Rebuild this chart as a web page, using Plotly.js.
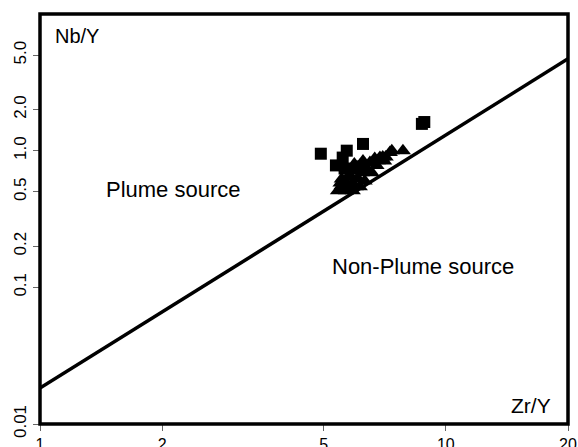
<!DOCTYPE html>
<html>
<head>
<meta charset="utf-8">
<script src="https://cdn.plot.ly/plotly-3.0.1.min.js"></script>
<style>html,body{margin:0;padding:0;background:#fff;}#chart{width:578px;height:447px;}</style>
</head>
<body>
<div id="chart"></div>
<script>
// Boundary line (Zr/Y vs Nb/Y)
var lineX = [1, 20];
var lineY = [0.0183, 4.70];

// Squares
var sqX = [4.92, 5.36, 5.57, 5.70, 6.25, 5.63, 8.73, 8.85];
var sqY = [0.95, 0.78, 0.89, 1.00, 1.12, 0.74, 1.57, 1.62];

// Triangles
var triX = [5.42, 5.54, 5.64, 5.67, 5.74, 5.80, 5.87, 5.90, 5.97, 6.00, 6.07, 6.14, 6.21, 6.31, 6.39, 6.50, 6.57, 6.68, 6.80, 6.88, 6.99, 7.11, 7.28, 7.36, 7.84, 6.14, 5.54, 5.74, 5.50, 5.95, 6.25, 6.45, 6.75, 7.05, 5.85, 6.05];
var triY = [0.51, 0.556, 0.60, 0.51, 0.53, 0.66, 0.57, 0.51, 0.71, 0.545, 0.625, 0.78, 0.69, 0.60, 0.74, 0.82, 0.69, 0.875, 0.845, 0.89, 0.90, 0.90, 0.97, 1.00, 1.00, 0.545, 0.62, 0.64, 0.58, 0.80, 0.84, 0.70, 0.78, 0.84, 0.72, 0.76];

var xTickVals = [1, 2, 5, 10, 20];
var xTickText = ['1', '2', '5', '10', '20'];
var yTickVals = [0.01, 0.1, 0.2, 0.5, 1, 2, 5];
var yTickText = ['0.01', '0.1', '0.2', '0.5', '1.0', '2.0', '5.0'];

var F = 'Liberation Sans, Arial, sans-serif';

var traces = [
  {x: lineX, y: lineY, mode: 'lines', line: {color: '#000', width: 3.5}, hoverinfo: 'skip'},
  {x: triX, y: triY, mode: 'markers', marker: {symbol: 'triangle-up', size: 14, color: '#000'}},
  {x: sqX, y: sqY, mode: 'markers', marker: {symbol: 'square', size: 12, color: '#000'}}
];

var layout = {
  width: 578, height: 447,
  margin: {l: 40, r: 10, t: 14, b: 23},
  paper_bgcolor: '#fff', plot_bgcolor: '#fff',
  showlegend: false,
  font: {family: F, color: '#000'},
  xaxis: {
    type: 'log', range: [0, Math.log10(20)],
    tickvals: xTickVals, ticktext: xTickText,
    ticks: 'outside', ticklen: 6, tickcolor: '#666', tickwidth: 1,
    showgrid: false, zeroline: false, showline: false,
    tickfont: {family: F, size: 16, color: '#000'}
  },
  yaxis: {
    type: 'log', range: [-2, 1],
    tickvals: yTickVals, ticktext: yTickText,
    ticks: 'outside', ticklen: 6, tickcolor: '#666', tickwidth: 1,
    tickangle: -90,
    showgrid: false, zeroline: false, showline: false,
    tickfont: {family: F, size: 17, color: '#000'}
  },
  shapes: [
    {type: 'rect', xref: 'paper', yref: 'paper', x0: 0, x1: 1, y0: 0, y1: 1,
     line: {color: '#000', width: 3.5}, layer: 'above'}
  ],
  annotations: [
    {text: 'Nb/Y', xref: 'paper', yref: 'paper', x: 0.0246, y: 0.946, xanchor: 'left', yanchor: 'middle', showarrow: false, font: {family: F, size: 20}},
    {text: 'Zr/Y', xref: 'paper', yref: 'paper', x: 0.9716, y: 0.044, xanchor: 'right', yanchor: 'middle', showarrow: false, font: {family: F, size: 21}},
    {text: 'Plume source', xref: 'paper', yref: 'paper', x: 0.253, y: 0.571, xanchor: 'center', yanchor: 'middle', showarrow: false, font: {family: F, size: 22}},
    {text: 'Non-Plume source', xref: 'paper', yref: 'paper', x: 0.726, y: 0.385, xanchor: 'center', yanchor: 'middle', showarrow: false, font: {family: F, size: 22}}
  ]
};

Plotly.newPlot('chart', traces, layout, {displayModeBar: false, staticPlot: true});
</script>
</body>
</html>
